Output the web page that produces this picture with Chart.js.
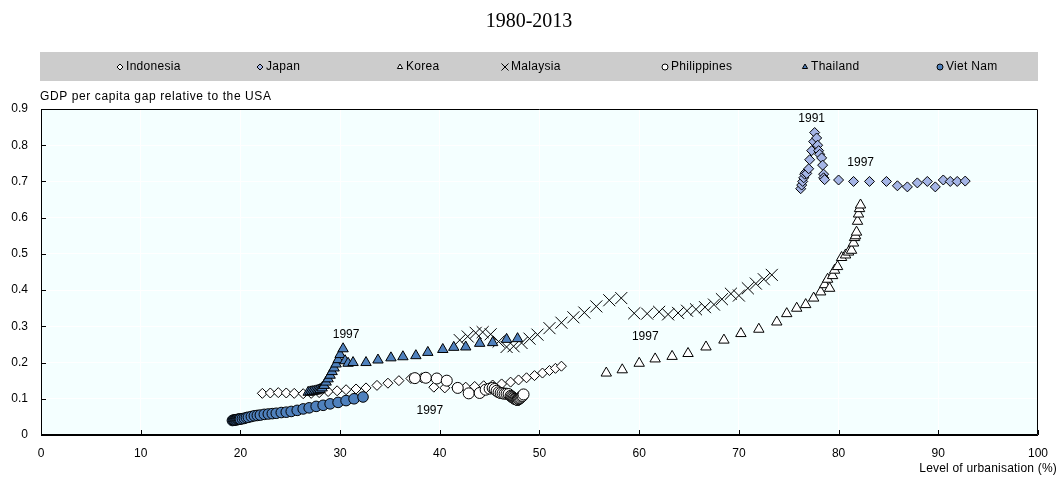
<!DOCTYPE html>
<html>
<head>
<meta charset="utf-8">
<script src="https://cdn.jsdelivr.net/npm/chart.js@4.4.0/dist/chart.umd.min.js"></script>
<style>
  html, body { margin: 0; padding: 0; background: #ffffff; }
  #wrap { width: 1059px; height: 481px; position: relative; }
</style>
</head>
<body>
<div id="wrap"><canvas id="c" width="1059" height="481"></canvas></div>
<script>
// Years covered by every series
const years = [1980,1981,1982,1983,1984,1985,1986,1987,1988,1989,1990,1991,1992,1993,1994,1995,1996,1997,1998,1999,2000,2001,2002,2003,2004,2005,2006,2007,2008,2009,2010,2011,2012,2013];

// Level of urbanisation (%) per country and year
const indonesiaUrban = [22.2,23.0,23.8,24.6,25.4,26.3,27.1,27.9,28.8,29.7,30.6,31.6,32.6,33.7,34.8,35.9,37.1,38.2,39.4,40.5,41.7,42.6,43.5,44.4,45.3,46.2,47.1,47.9,48.7,49.5,50.3,51.0,51.6,52.2];
const japanUrban     = [76.2,76.3,76.4,76.5,76.6,76.7,76.8,77.0,77.1,77.3,77.5,77.6,77.8,77.9,78.0,78.1,78.3,78.4,78.5,78.5,78.6,80.0,81.5,83.1,84.8,85.9,86.9,87.9,88.9,89.7,90.5,91.2,91.9,92.7];
const koreaUrban     = [56.7,58.3,60.0,61.6,63.3,64.9,66.7,68.5,70.2,72.0,73.8,74.8,75.8,76.7,77.5,78.2,78.6,78.9,79.1,79.4,79.6,79.9,80.3,80.7,81.0,81.3,81.5,81.6,81.7,81.8,81.9,82.0,82.1,82.2];
const malaysiaUrban  = [42.0,42.8,43.6,44.3,45.1,45.9,46.7,47.4,48.2,49.0,49.8,51.0,52.2,53.4,54.5,55.7,57.0,58.2,59.5,60.8,62.0,62.9,63.9,64.8,65.7,66.6,67.5,68.3,69.2,70.0,70.9,71.7,72.5,73.3];
const philippinesUrban = [37.5,38.6,39.7,40.7,41.8,42.9,44.0,44.6,45.0,45.3,45.5,45.7,45.9,46.1,46.3,46.5,46.7,46.9,47.1,47.2,47.3,47.4,47.5,47.6,47.7,47.8,47.8,47.9,47.9,48.0,48.1,48.2,48.3,48.4];
const thailandUrban  = [26.8,27.0,27.2,27.4,27.6,27.8,28.0,28.2,28.4,28.6,28.8,29.0,29.2,29.4,29.6,29.8,30.0,30.3,30.5,30.8,31.3,32.6,33.8,35.1,36.3,37.6,38.8,40.3,41.4,42.6,44.0,45.3,46.7,47.8];
const vietnamUrban   = [19.2,19.3,19.4,19.5,19.6,19.7,19.8,19.9,20.0,20.2,20.4,20.6,20.8,21.1,21.4,21.7,22.0,22.4,22.8,23.2,23.6,24.1,24.6,25.1,25.7,26.3,26.9,27.6,28.3,29.0,29.8,30.6,31.4,32.3];

// GDP per capita gap relative to the USA per country and year
const indonesiaGap = [0.115,0.116,0.117,0.116,0.115,0.114,0.115,0.117,0.120,0.122,0.125,0.127,0.130,0.137,0.143,0.150,0.156,0.158,0.132,0.130,0.131,0.132,0.134,0.136,0.138,0.141,0.146,0.152,0.158,0.164,0.171,0.178,0.184,0.190];
const japanGap     = [0.680,0.690,0.700,0.710,0.720,0.725,0.722,0.735,0.760,0.785,0.810,0.835,0.820,0.800,0.785,0.775,0.765,0.745,0.720,0.710,0.705,0.704,0.700,0.700,0.700,0.688,0.685,0.696,0.700,0.685,0.704,0.700,0.700,0.701];
const koreaGap     = [0.171,0.180,0.198,0.210,0.217,0.225,0.243,0.262,0.280,0.292,0.312,0.335,0.350,0.360,0.378,0.395,0.415,0.430,0.405,0.440,0.455,0.465,0.490,0.497,0.505,0.510,0.530,0.545,0.550,0.560,0.590,0.610,0.625,0.635];
const malaysiaGap  = [0.262,0.272,0.282,0.284,0.278,0.258,0.243,0.245,0.254,0.266,0.277,0.295,0.310,0.325,0.338,0.355,0.372,0.378,0.336,0.335,0.340,0.333,0.337,0.343,0.347,0.353,0.360,0.375,0.390,0.385,0.405,0.418,0.430,0.442];
const philippinesGap = [0.157,0.158,0.156,0.150,0.130,0.115,0.116,0.125,0.128,0.130,0.127,0.122,0.118,0.116,0.115,0.114,0.114,0.113,0.108,0.106,0.104,0.102,0.100,0.099,0.098,0.097,0.097,0.099,0.100,0.101,0.103,0.106,0.108,0.112];
const thailandGap  = [0.118,0.119,0.120,0.121,0.122,0.124,0.126,0.130,0.137,0.146,0.155,0.165,0.175,0.185,0.196,0.208,0.222,0.238,0.205,0.198,0.200,0.200,0.207,0.213,0.216,0.219,0.228,0.236,0.242,0.243,0.253,0.255,0.264,0.266];
const vietnamGap   = [0.040,0.041,0.041,0.042,0.042,0.043,0.043,0.044,0.044,0.045,0.046,0.048,0.049,0.051,0.053,0.054,0.055,0.057,0.058,0.059,0.060,0.062,0.063,0.065,0.068,0.072,0.075,0.079,0.082,0.086,0.090,0.095,0.100,0.105];

// Axis ticks
const xTicks = [0,10,20,30,40,50,60,70,80,90,100];
const yTicks = [0,0.1,0.2,0.3,0.4,0.5,0.6,0.7,0.8,0.9];

// Years called out next to a series
const calloutSeries = ['Thailand','Indonesia','Malaysia','Japan','Japan'];
const calloutYears  = [1997,1997,1997,1991,1997];

const FONT = '"Liberation Sans", Arial, sans-serif';
const BLUE = '#4F81BD';
const LAVENDER = '#A5B5E6';

function pts(xs, ys) { return xs.map((x, i) => ({ x: x, y: ys[i], year: years[i] })); }

const series = [
  { label: 'Indonesia',   data: pts(indonesiaUrban, indonesiaGap),     pointStyle: 'rectRot',  pointRadius: 5,   backgroundColor: '#ffffff', borderColor: '#000000', order: 7 },
  { label: 'Japan',       data: pts(japanUrban, japanGap),             pointStyle: 'rectRot',  pointRadius: 5,   backgroundColor: LAVENDER,  borderColor: '#000000', order: 6 },
  { label: 'Korea',       data: pts(koreaUrban, koreaGap),             pointStyle: 'triangle', pointRadius: 6,   backgroundColor: '#ffffff', borderColor: '#000000', order: 5 },
  { label: 'Malaysia',    data: pts(malaysiaUrban, malaysiaGap),       pointStyle: 'crossRot', pointRadius: 8.5, backgroundColor: '#000000', borderColor: '#000000', order: 4 },
  { label: 'Philippines', data: pts(philippinesUrban, philippinesGap), pointStyle: 'circle',   pointRadius: 5.5, backgroundColor: '#ffffff', borderColor: '#000000', order: 3 },
  { label: 'Thailand',    data: pts(thailandUrban, thailandGap),       pointStyle: 'triangle', pointRadius: 6,   backgroundColor: BLUE,      borderColor: '#000000', order: 2 },
  { label: 'Viet Nam',    data: pts(vietnamUrban, vietnamGap),         pointStyle: 'circle',   pointRadius: 5.3, backgroundColor: BLUE,      borderColor: '#000000', order: 1 }
];

const datasets = series.map(s => Object.assign({
  showLine: false,
  pointBorderWidth: 1,
  pointHoverRadius: s.pointRadius,
  pointBackgroundColor: s.backgroundColor,
  pointBorderColor: s.borderColor
}, s));

// Plot background, frame, inward tick marks
const frame = {
  id: 'frame',
  beforeDraw(chart) {
    const { ctx, chartArea: a } = chart;
    ctx.save();
    ctx.fillStyle = '#F4FFFF';
    ctx.fillRect(a.left, a.top, a.right - a.left, a.bottom - a.top);
    ctx.restore();
  },
  afterDatasetsDraw(chart) {
    const { ctx, chartArea: a, scales } = chart;
    ctx.save();
    ctx.strokeStyle = '#000000';
    ctx.lineWidth = 1;
    ctx.beginPath();
    ctx.rect(a.left + 0.5, a.top + 0.5, a.right - a.left - 1, a.bottom - a.top - 1);
    ctx.stroke();
    ctx.beginPath();
    xTicks.forEach(v => {
      const px = Math.round(scales.x.getPixelForValue(v)) + 0.5;
      ctx.moveTo(px, a.bottom); ctx.lineTo(px, a.bottom - 5);
    });
    yTicks.forEach(v => {
      const py = Math.round(scales.y.getPixelForValue(v)) + 0.5;
      ctx.moveTo(a.left, py); ctx.lineTo(a.left + 5, py);
    });
    ctx.stroke();
    ctx.restore();
  }
};

// Year call-outs, axis titles, chart title and the legend band
const labels = {
  id: 'labels',
  afterDraw(chart) {
    const { ctx, chartArea: a, scales } = chart;
    ctx.save();
    ctx.fillStyle = '#000000';

    // year call-outs placed relative to their point
    const offsets = { 'Thailand1997': [3, -14], 'Indonesia1997': [8, 33], 'Malaysia1997': [24, 39], 'Japan1991': [-3, -14], 'Japan1997': [38, -2] };
    ctx.font = '12px ' + FONT;
    ctx.textAlign = 'center';
    ctx.textBaseline = 'middle';
    calloutSeries.forEach((name, i) => {
      const s = series.find(d => d.label === name);
      const p = s.data.find(d => d.year === calloutYears[i]);
      const off = offsets[name + calloutYears[i]];
      ctx.fillText(String(calloutYears[i]), scales.x.getPixelForValue(p.x) + off[0], scales.y.getPixelForValue(p.y) + off[1]);
    });

    // chart title
    ctx.font = '20px "Liberation Serif", "Times New Roman", serif';
    ctx.textAlign = 'center';
    ctx.fillText('1980-2013', 529, 22);

    // axis titles
    ctx.font = '12px ' + FONT;
    ctx.letterSpacing = '0.6px';
    ctx.textAlign = 'left';
    ctx.fillText('GDP per capita gap relative to the USA', a.left - 1, 97);
    ctx.letterSpacing = '0.2px';
    ctx.textAlign = 'right';
    ctx.fillText('Level of urbanisation (%)', 1057, 469);

    // legend band
    ctx.letterSpacing = '0.3px';
    ctx.fillStyle = '#CCCCCC';
    ctx.fillRect(a.left - 1, 52, a.right - a.left + 1, 29);
    const legendX = [120, 260, 400, 505, 665, 805, 940];
    ctx.textAlign = 'left';
    series.forEach((s, i) => {
      ctx.fillStyle = s.backgroundColor;
      ctx.strokeStyle = '#000000';
      ctx.lineWidth = 1;
      const r = s.pointStyle === 'crossRot' ? 5 : 3;
      Chart.helpers.drawPoint(ctx, { pointStyle: s.pointStyle, radius: r, borderWidth: 1 }, legendX[i], 67);
      ctx.fillStyle = '#000000';
      ctx.fillText(s.label, legendX[i] + 6, 67);
    });
    ctx.restore();
  }
};

new Chart(document.getElementById('c'), {
  type: 'scatter',
  data: { datasets: datasets },
  plugins: [frame, labels],
  options: {
    responsive: false,
    animation: false,
    events: [],
    layout: { padding: { top: 109, right: 10, left: 0, bottom: 0 } },
    plugins: { legend: { display: false }, tooltip: { enabled: false } },
    scales: {
      x: {
        type: 'linear', min: 0, max: 100,
        afterFit(scale) { scale.height = 46; },
        afterBuildTicks(scale) { scale.ticks = xTicks.map(v => ({ value: v })); },
        ticks: { font: { family: FONT, size: 12 }, color: '#000000', padding: 11, maxRotation: 0, autoSkip: false },
        grid: { color: '#ffffff', lineWidth: 1, drawTicks: false },
        border: { color: '#000000', width: 1 }
      },
      y: {
        type: 'linear', min: 0, max: 0.9,
        afterFit(scale) { scale.width = 41; },
        afterBuildTicks(scale) { scale.ticks = yTicks.map(v => ({ value: v })); },
        ticks: {
          font: { family: FONT, size: 12 }, color: '#000000', padding: 13, autoSkip: false,
          callback: v => (v === 0 ? '0' : v.toFixed(1))
        },
        grid: { color: '#ffffff', lineWidth: 1, drawTicks: false },
        border: { color: '#000000', width: 1 }
      }
    }
  }
});
</script>
</body>
</html>
